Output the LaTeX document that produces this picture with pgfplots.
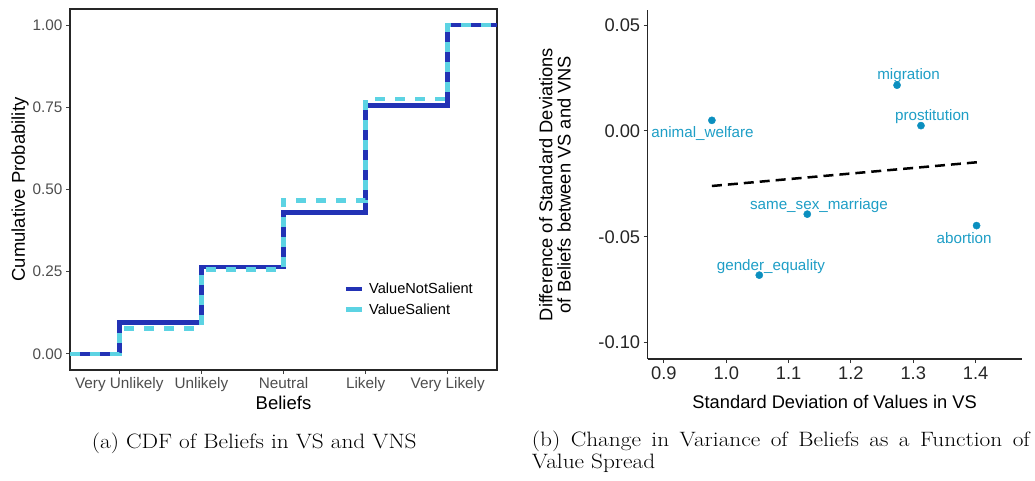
\documentclass[border=0pt]{standalone}
\usepackage{pgfplots}
\pgfplotsset{compat=1.18}
\usepackage{fontspec}
\setsansfont{Liberation Sans}
\newfontfamily\capfont{Latin Modern Roman}[FakeStretch=1.12]
\definecolor{vns}{RGB}{34,50,181}
\definecolor{vs}{RGB}{92,211,227}
\definecolor{ptc}{RGB}{11,143,191}
\definecolor{labc}{RGB}{30,158,198}
\definecolor{tickgray}{RGB}{77,77,77}
\begin{document}
\begin{tikzpicture}
\path[use as bounding box] (0pt,0pt) rectangle (1035pt,480pt);

\begin{axis}[
  at={(70pt,110pt)}, anchor=south west, scale only axis,
  width=427pt, height=361pt,
  xmin=0.4, xmax=5.6, ymin=-0.049, ymax=1.049,
  xtick={1,2,3,4,5},
  xticklabels={Very Unlikely,Unlikely,Neutral,Likely,Very Likely},
  ytick={0,0.25,0.5,0.75,1},
  yticklabels={0.00,0.25,0.50,0.75,1.00},
  tick align=outside, tick pos=left, major tick length=4pt,
  every tick/.style={line width=1pt, black!75},
  axis line style={line width=1.3pt, black!85},
  ticklabel style={font=\sffamily\fontsize{15.3}{15.3}\selectfont, text=tickgray},
  xlabel={Beliefs}, ylabel={Cumulative Probability},
  label style={font=\sffamily\fontsize{18.5}{18.5}\selectfont},
  xlabel style={at={(axis description cs:0.5,-0.0906)}, anchor=center},
  ylabel style={at={(axis description cs:-0.1171,0.5)}, anchor=center},
  legend style={at={(axis description cs:0.633,0.253)}, anchor=north west,
    draw=none, fill=none, font=\sffamily\fontsize{14.6}{14.6}\selectfont,
    row sep=4.5pt, column sep=3pt},
  legend cell align=left,
  legend image code/.code={\draw[#1, solid] (0pt,0pt) -- (16pt,0pt);},
]
\addplot[const plot, color=vns, line width=4.7pt] coordinates {
 (0.4,0) (1,0.095) (2,0.264) (3,0.43) (4,0.755) (5,1) (5.6,1)};
\addlegendentry{ValueNotSalient}
\addplot[const plot, color=vs, line width=4.7pt, dash pattern=on 10pt off 10pt] coordinates {
 (0.4,0) (1,0.078) (2,0.257) (3,0.467) (4,0.775) (5,1) (5.6,1)};
\addlegendentry{ValueSalient}
\end{axis}

\begin{axis}[
  at={(647.7pt,121pt)}, anchor=south west, scale only axis,
  width=374pt, height=349pt,
  xmin=0.874, xmax=1.474, ymin=-0.1077, ymax=0.0571,
  axis lines*=left,
  xtick={0.9,1.0,1.1,1.2,1.3,1.4},
  xticklabels={0.9,1.0,1.1,1.2,1.3,1.4},
  ytick={-0.1,-0.05,0,0.05},
  yticklabels={-0.10,-0.05,0.00,0.05},
  tick align=outside, major tick length=4pt,
  every tick/.style={line width=1pt, black!80},
  axis line style={line width=1.3pt, black!85},
  ticklabel style={font=\sffamily\fontsize{18.3}{18.3}\selectfont, text=black!85},
  xlabel={Standard Deviation of Values in VS},
  ylabel={Difference of Standard Deviations\\of Beliefs between VS and VNS},
  label style={font=\sffamily\fontsize{18.3}{18.3}\selectfont},
  xlabel style={at={(axis description cs:0.5,-0.1223)}, anchor=center},
  ylabel style={at={(axis description cs:-0.2479,0.5)}, anchor=center, align=center},
]
\addplot[black, line width=2.5pt, dash pattern=on 10pt off 6pt] coordinates {
 (0.977,-0.026) (1.402,-0.0148)};
\addplot[only marks, mark=*, mark size=3.6pt, color=ptc] coordinates {
 (0.977,0.005) (1.274,0.0216) (1.3124,0.0025) (1.130,-0.0393) (1.4016,-0.0447) (1.053,-0.0681)};
\begin{scope}[every node/.style={font=\sffamily\fontsize{15.2}{15.2}\selectfont, text=labc}]
\node at (axis cs:0.962,-0.0012) {animal\_welfare};
\node at (axis cs:1.2925,0.0260) {migration};
\node at (axis cs:1.3305,0.0070) {prostitution};
\node at (axis cs:1.1487,-0.0352) {same\_sex\_marriage};
\node at (axis cs:1.3817,-0.0505) {abortion};
\node at (axis cs:1.0717,-0.0640) {gender\_equality};
\end{scope}
\end{axis}

\node[anchor=base west, inner sep=0pt, font=\capfont\fontsize{20.8}{21.7}\selectfont] at (91.7pt,32pt)
  {(a) CDF of Beliefs in VS and VNS};
\node[anchor=base west, inner sep=0pt, font=\capfont\fontsize{20.8}{21.7}\selectfont] at (531.7pt,33.3pt)
  {\makebox[498pt][s]{(b) Change in Variance of Beliefs as a Function of}};
\node[anchor=base west, inner sep=0pt, font=\capfont\fontsize{20.8}{21.7}\selectfont] at (531.7pt,11.7pt)
  {Value Spread};
\end{tikzpicture}
\end{document}
